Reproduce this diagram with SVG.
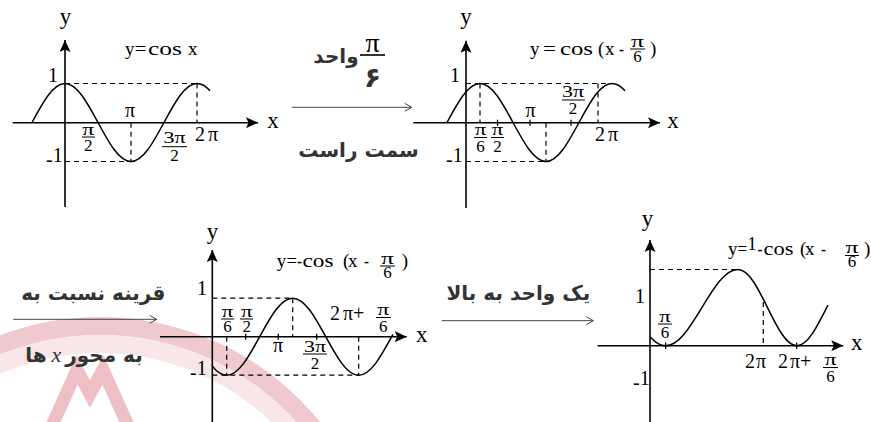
<svg xmlns="http://www.w3.org/2000/svg" width="871" height="422" viewBox="0 0 871 422">
<style>
.ax{stroke:#000;stroke-width:1.6;fill:none}
.cv{stroke:#000;stroke-width:1.5;fill:none}
.ds{stroke:#000;stroke-width:1.2;stroke-dasharray:5 4;fill:none}
.tk{stroke:#000;stroke-width:1.3}
.fb{stroke:#000;stroke-width:1}
.t{font-family:"Liberation Serif","Times New Roman",serif;fill:#000}
.al{font-size:23px;text-anchor:middle}
.n{font-size:20px}
.f{font-size:17px;text-anchor:middle}
.ti{font-size:19px}
.p{font-family:"DejaVu Sans",sans-serif;font-weight:bold;font-size:20px;fill:#333;text-anchor:middle}
.cn{stroke:#444;stroke-width:1;fill:none}
</style>
<defs>
<marker id="ah" markerWidth="12" markerHeight="11" refX="12" refY="5.5" orient="auto" markerUnits="userSpaceOnUse">
<path d="M0,0 L12,5.5 L0,11 L2.5,5.5 Z" fill="#000"/>
</marker>
<marker id="oh" markerWidth="9" markerHeight="10" refX="8" refY="5" orient="auto" markerUnits="userSpaceOnUse">
<path d="M1,1 L8,5 L1,9" fill="none" stroke="#444" stroke-width="1"/>
</marker>
<path id="cosw" d="M-33,39 C-22.24,19.02 -11.94,0 0,0 C11.94,0 22.24,19.02 33,39 C43.76,58.98 54.06,78 66,78 C77.94,78 88.24,58.98 99,39 C109.76,19.02 120.06,0 132,0 Q138.5,0 145,7.24"/>
</defs>
<rect width="871" height="422" fill="#fff"/>

<g id="watermark">
<circle cx="100" cy="600" r="274" fill="none" stroke="#f0c9ce" stroke-width="18"/>
<circle cx="100" cy="600" r="256" fill="none" stroke="#f9e6e8" stroke-width="18"/>
<polyline points="50,430 77,370 90,394 103,370 130,430" fill="none" stroke="#eec0c6" stroke-width="13"/>
</g>

<g id="graph1">
<line class="ax" x1="12.7" y1="122.7" x2="258" y2="122.7" marker-end="url(#ah)"/>
<line class="ax" x1="65" y1="207" x2="65" y2="40" marker-end="url(#ah)"/>
<path class="ds" d="M65,83.5 H197 M197,83.5 V122.7 M65,161.5 H131 M131,122.7 V161.5"/>
<use href="#cosw" class="cv" transform="translate(65,83.5)"/>
<text class="t al" x="65.5" y="24">y</text>
<text class="t al" x="273" y="128.3">x</text>
<text class="t n" x="48" y="82">1</text>
<text class="t n" x="46" y="161.7"><tspan dy="4">-</tspan><tspan dy="-4">1</tspan></text>
<text class="t n" x="130" y="117" text-anchor="middle">π</text>
<text class="t f" x="88.3" y="134.5" textLength="12" lengthAdjust="spacingAndGlyphs">π</text><line class="fb" x1="82" y1="137" x2="95" y2="137"/><text class="t f" x="88.3" y="150.5">2</text>
<text class="t f" x="174.5" y="143.3" textLength="22" lengthAdjust="spacingAndGlyphs">3π</text><line class="fb" x1="162" y1="146.7" x2="187" y2="146.7"/><text class="t f" x="174.5" y="161">2</text>
<text class="t n" x="195" y="140.7">2<tspan dx="3">π</tspan></text>
<text class="t ti" x="125" y="55">y</text>
<text class="t ti" x="134.5" y="55" textLength="12" lengthAdjust="spacingAndGlyphs">=</text>
<text class="t ti" x="148" y="55" textLength="34" lengthAdjust="spacingAndGlyphs">cos</text>
<text class="t ti" x="188" y="55">x</text>
</g>

<g id="graph2">
<line class="ax" x1="413.3" y1="122.7" x2="660" y2="122.7" marker-end="url(#ah)"/>
<line class="ax" x1="466" y1="208" x2="466" y2="40.7" marker-end="url(#ah)"/>
<path class="ds" d="M466,83.5 H612 M480,83.5 V122.7 M598,83.5 V122.7 M466,161.5 H546 M546,122.7 V161.5"/>
<line class="tk" x1="497.5" y1="119.7" x2="497.5" y2="125.7"/>
<line class="tk" x1="530" y1="119.7" x2="530" y2="125.7"/>
<line class="tk" x1="571" y1="119.7" x2="571" y2="125.7"/>
<use href="#cosw" class="cv" transform="translate(480,83.5)"/>
<text class="t al" x="466" y="24">y</text>
<text class="t al" x="673" y="128.3">x</text>
<text class="t n" x="450" y="82">1</text>
<text class="t n" x="446" y="161.7"><tspan dy="4">-</tspan><tspan dy="-4">1</tspan></text>
<text class="t n" x="530.5" y="116.7" text-anchor="middle">π</text>
<text class="t f" x="480.5" y="135" textLength="11.5" lengthAdjust="spacingAndGlyphs">π</text><line class="fb" x1="474" y1="137.5" x2="487" y2="137.5"/><text class="t f" x="480.5" y="152">6</text>
<text class="t f" x="497.5" y="135" textLength="11.5" lengthAdjust="spacingAndGlyphs">π</text><line class="fb" x1="491" y1="137.5" x2="504" y2="137.5"/><text class="t f" x="497.5" y="152">2</text>
<text class="t f" x="573" y="96.5" textLength="22" lengthAdjust="spacingAndGlyphs">3π</text><line class="fb" x1="562" y1="100" x2="585" y2="100"/><text class="t f" x="573" y="114">2</text>
<text class="t n" x="595" y="141">2<tspan dx="3">π</tspan></text>
<text class="t ti" x="530" y="55">y</text>
<text class="t ti" x="543" y="55" textLength="13" lengthAdjust="spacingAndGlyphs">=</text>
<text class="t ti" x="560" y="55" textLength="33" lengthAdjust="spacingAndGlyphs">cos</text>
<text class="t ti" x="598" y="55">(</text>
<text class="t ti" x="605" y="55">x</text>
<text class="t ti" x="619" y="55" textLength="5" lengthAdjust="spacingAndGlyphs">-</text>
<text class="t f" x="637.5" y="46.5" textLength="13" lengthAdjust="spacingAndGlyphs">π</text><line class="fb" x1="630" y1="49" x2="645" y2="49"/><text class="t f" x="637.5" y="61.5">6</text>
<text class="t ti" x="650" y="55">)</text>
</g>

<g id="graph3">
<line class="ax" x1="160" y1="336.7" x2="406.7" y2="336.7" marker-end="url(#ah)"/>
<line class="ax" x1="212.3" y1="422" x2="212.3" y2="250" marker-end="url(#ah)"/>
<path class="ds" d="M212.3,298.2 H292.7 M292.7,298.2 V336.7 M212.3,375.2 H358.7 M226.7,336.7 V375.2 M358.7,336.7 V375.2"/>
<line class="tk" x1="245.7" y1="333.7" x2="245.7" y2="339.7"/>
<line class="tk" x1="278.3" y1="333.7" x2="278.3" y2="339.7"/>
<line class="tk" x1="316.7" y1="333.7" x2="316.7" y2="339.7"/>
<path class="cv" d="M212.3,366.15 Q219.5,375.2 226.7,375.2 C238.64,375.2 248.94,356.42 259.7,336.7 C270.46,316.98 280.76,298.2 292.7,298.2 C304.64,298.2 314.94,316.98 325.7,336.7 C336.46,356.42 346.76,375.2 358.7,375.2 C370.64,375.2 380.94,356.42 391.7,336.7 L393,334.3"/>
<text class="t al" x="212.5" y="239">y</text>
<text class="t al" x="421.7" y="341.7">x</text>
<text class="t n" x="197" y="295">1</text>
<text class="t n" x="190" y="375"><tspan dy="4">-</tspan><tspan dy="-4">1</tspan></text>
<text class="t f" x="227.5" y="316.5" textLength="11.5" lengthAdjust="spacingAndGlyphs">π</text><line class="fb" x1="221" y1="319" x2="234" y2="319"/><text class="t f" x="227.5" y="331.5">6</text>
<text class="t f" x="246.7" y="316.5" textLength="11.5" lengthAdjust="spacingAndGlyphs">π</text><line class="fb" x1="240" y1="319" x2="253" y2="319"/><text class="t f" x="246.7" y="331.5">2</text>
<text class="t n" x="278" y="351.7" text-anchor="middle">π</text>
<text class="t f" x="315" y="351.5" textLength="22" lengthAdjust="spacingAndGlyphs">3π</text><line class="fb" x1="303" y1="354" x2="327" y2="354"/><text class="t f" x="315" y="369">2</text>
<text class="t n" x="330" y="320">2<tspan dx="3">π+</tspan></text>
<text class="t f" x="383.3" y="315" textLength="12" lengthAdjust="spacingAndGlyphs">π</text><line class="fb" x1="376" y1="317.5" x2="391" y2="317.5"/><text class="t f" x="383.3" y="331.5">6</text>
<text class="t ti" x="276.7" y="266.7">y</text>
<text class="t ti" x="286.5" y="266.7" textLength="10.5" lengthAdjust="spacingAndGlyphs">=</text>
<text class="t ti" x="297" y="266.7" textLength="5" lengthAdjust="spacingAndGlyphs">-</text>
<text class="t ti" x="302.5" y="266.7" textLength="31" lengthAdjust="spacingAndGlyphs">cos</text>
<text class="t ti" x="343" y="266.7">(</text>
<text class="t ti" x="348" y="266.7">x</text>
<text class="t ti" x="364" y="266.7" textLength="5" lengthAdjust="spacingAndGlyphs">-</text>
<text class="t f" x="387.5" y="263.5" textLength="13" lengthAdjust="spacingAndGlyphs">π</text><line class="fb" x1="380" y1="266" x2="395" y2="266"/><text class="t f" x="387.5" y="278">6</text>
<text class="t ti" x="401.7" y="266.7">)</text>
</g>

<g id="graph4">
<line class="ax" x1="597.7" y1="345.7" x2="843.3" y2="345.7" marker-end="url(#ah)"/>
<line class="ax" x1="650" y1="422" x2="650" y2="240" marker-end="url(#ah)"/>
<path class="ds" d="M650,269.5 H738 M763.3,302 V345.7"/>
<line class="tk" x1="665.7" y1="342.5" x2="665.7" y2="349" stroke-width="2"/>
<line class="tk" x1="796.7" y1="342.5" x2="796.7" y2="349" stroke-width="2"/>
<path class="cv" d="M650,336.7 Q657.85,345.7 665.7,345.7 C678.78,345.7 690.06,327.12 701.85,307.6 C713.64,288.08 724.92,269.5 738,269.5 C748.68,269.5 757.88,288.08 767.5,307.6 C777.12,327.12 786.32,345.7 797,345.7 C807.68,345.7 816.88,327.12 828,305"/>
<text class="t al" x="647.5" y="226">y</text>
<text class="t al" x="856.7" y="350">x</text>
<text class="t n" x="635" y="303.3">1</text>
<text class="t n" x="633" y="385"><tspan dy="4">-</tspan><tspan dy="-4">1</tspan></text>
<text class="t f" x="665" y="321.5" textLength="11.5" lengthAdjust="spacingAndGlyphs">π</text><line class="fb" x1="658" y1="324" x2="672" y2="324"/><text class="t f" x="665" y="337.5">6</text>
<text class="t n" x="745" y="368">2<tspan dx="1">π</tspan></text>
<text class="t n" x="778" y="368">2<tspan dx="2">π+</tspan></text>
<text class="t f" x="830.5" y="365" textLength="12" lengthAdjust="spacingAndGlyphs">π</text><line class="fb" x1="823" y1="367.5" x2="838" y2="367.5"/><text class="t f" x="830.5" y="381.5">6</text>
<text class="t ti" x="728" y="255">y</text>
<text class="t ti" x="737.5" y="255" textLength="9.5" lengthAdjust="spacingAndGlyphs">=</text>
<text class="t" x="747.5" y="250" style="font-size:18px">1</text>
<text class="t ti" x="757.5" y="255" textLength="5" lengthAdjust="spacingAndGlyphs">-</text>
<text class="t ti" x="763.5" y="255" textLength="30" lengthAdjust="spacingAndGlyphs">cos</text>
<text class="t ti" x="800" y="255">(</text>
<text class="t ti" x="805" y="255">x</text>
<text class="t ti" x="821" y="255" textLength="5" lengthAdjust="spacingAndGlyphs">-</text>
<text class="t f" x="852" y="252.5" textLength="13" lengthAdjust="spacingAndGlyphs">π</text><line class="fb" x1="845" y1="255.5" x2="859" y2="255.5"/><text class="t f" x="852" y="267">6</text>
<text class="t ti" x="864" y="255">)</text>
</g>

<g id="label1">
<text class="p" x="336" y="63">واحد</text>
<text class="t" x="372.5" y="51.5" style="font-size:28px" text-anchor="middle">π</text>
<line x1="360" y1="55" x2="385" y2="55" stroke="#333" stroke-width="2"/>
<text class="p" x="372.5" y="87" style="font-size:28px">۶</text>
<text class="p" x="358.5" y="157">سمت راست</text>
</g>

<g id="label2">
<text class="p" x="93.3" y="300">قرینه نسبت به</text>
<text class="p" x="104" y="362">به محور</text>
<text x="56.5" y="362" font-family="'Liberation Serif',serif" font-style="italic" font-size="22" fill="#333" text-anchor="middle">x</text>
<text class="p" x="36" y="362">ها</text>
</g>

<g id="label3">
<text class="p" x="518.3" y="300">یک واحد به بالا</text>
</g>

<g id="connectors">
<line class="cn" x1="292" y1="107.3" x2="411.7" y2="107.3" marker-end="url(#oh)"/>
<line class="cn" x1="13.3" y1="319.3" x2="156.7" y2="319.3" marker-end="url(#oh)"/>
<line class="cn" x1="441.7" y1="320.7" x2="593.3" y2="320.7" marker-end="url(#oh)"/>
</g>
</svg>
